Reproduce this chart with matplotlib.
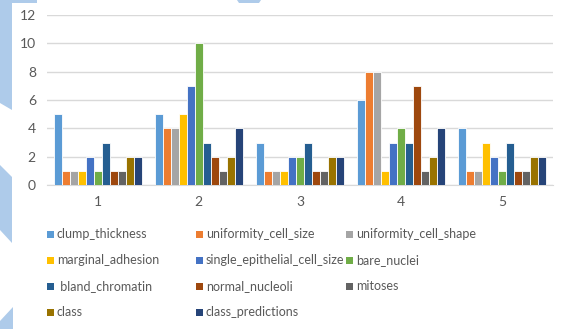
import numpy as np
import matplotlib.pyplot as plt
from matplotlib.patches import Polygon, Rectangle

plt.rcParams['font.family'] = ['Lato', 'DejaVu Sans']

categories = ['1', '2', '3', '4', '5']
series_names = ['clump_thickness', 'uniformity_cell_size', 'uniformity_cell_shape',
                'marginal_adhesion', 'single_epithelial_cell_size', 'bare_nuclei',
                ' bland_chromatin', 'normal_nucleoli', 'mitoses', 'class',
                'class_predictions']
clump_thickness = [5, 5, 3, 6, 4]
uniformity_cell_size = [1, 4, 1, 8, 1]
uniformity_cell_shape = [1, 4, 1, 8, 1]
marginal_adhesion = [1, 5, 1, 1, 3]
single_epithelial_cell_size = [2, 7, 2, 3, 2]
bare_nuclei = [1, 10, 2, 4, 1]
bland_chromatin = [3, 3, 3, 3, 3]
normal_nucleoli = [1, 2, 1, 7, 1]
mitoses = [1, 1, 1, 1, 1]
class_col = [2, 2, 2, 2, 2]
class_predictions = [2, 4, 2, 4, 2]
y_ticks = [0, 2, 4, 6, 8, 10, 12]

series = [clump_thickness, uniformity_cell_size, uniformity_cell_shape,
          marginal_adhesion, single_epithelial_cell_size, bare_nuclei,
          bland_chromatin, normal_nucleoli, mitoses, class_col, class_predictions]
colors = ['#5B9BD5', '#ED7D31', '#A5A5A5', '#FFC000', '#4472C4', '#70AD47',
          '#255E91', '#9E480E', '#636363', '#997300', '#264478']

W, H = 571, 329
fig = plt.figure(figsize=(W / 100, H / 100), dpi=100)


def px(x, y):
    return (x / W, 1 - y / H)


# light blue background shapes on the left edge
deco = '#AECBEA'
shapes = [
    [(0, 0), (37, 0), (37, 3), (12, 3), (12, 110), (0, 103)],
    [(0, 165), (12, 177), (12, 243), (0, 230)],
    [(0, 321), (13, 307), (13, 329), (0, 329)],
    [(237, 0), (261, 0), (259, 3), (239, 3)],
]
for pts in shapes:
    fig.add_artist(Polygon([px(*p) for p in pts], closed=True,
                           transform=fig.transFigure, facecolor=deco,
                           edgecolor='none'))

ax = fig.add_axes([47 / W, 1 - 185 / H, (553 - 47) / W, 170 / H])
ax.set_facecolor('none')

n = len(series)
x = np.arange(len(categories))
group = 0.87
bw = group / n
for i, (vals, c) in enumerate(zip(series, colors)):
    off = -group / 2 + bw * (i + 0.5)
    ax.bar(x + off, vals, width=bw, color=c, edgecolor='white',
           linewidth=0.6, zorder=3)

ax.set_xlim(-0.5, len(categories) - 0.5)
ax.set_ylim(0, 12)
ax.set_yticks(y_ticks)
ax.set_xticks(x)
ax.set_xticklabels(categories)
ax.grid(axis='y', color='#D9D9D9', linewidth=1, zorder=0)
for s in ['top', 'right', 'left']:
    ax.spines[s].set_visible(False)
ax.spines['bottom'].set_color('#D9D9D9')
ax.tick_params(axis='both', length=0, colors='#595959', labelsize=10)
ax.tick_params(axis='y', pad=8)
ax.tick_params(axis='x', pad=8)

# legend, filled row by row in three columns
col_x = [47, 196, 346]
row_y = [234, 260, 286, 312]
for k, (name, c) in enumerate(zip(series_names, colors)):
    r, col = divmod(k, 3)
    lx, ly = col_x[col], row_y[r]
    fig.add_artist(Rectangle(px(lx, ly + 3.5), 7 / W, 7 / H,
                             transform=fig.transFigure, facecolor=c,
                             edgecolor='none'))
    fig.text(*px(lx + 10, ly), name, fontsize=9, color='#595959',
             va='center', ha='left')

fig.savefig('out.png', dpi=100)
